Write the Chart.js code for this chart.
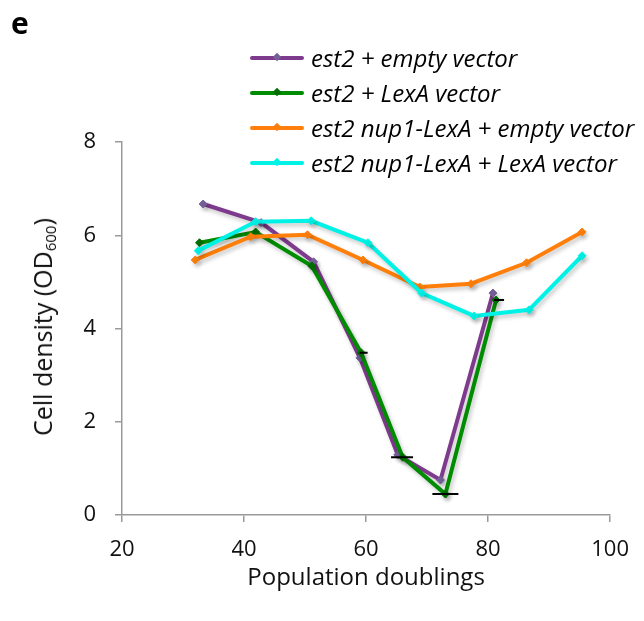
<!DOCTYPE html>
<html>
<head>
<meta charset="utf-8">
<script src="https://cdn.jsdelivr.net/npm/chart.js@4.4.0/dist/chart.umd.min.js"></script>
<style>
  body { margin: 0; background: #fff; font-family: "Open Sans", sans-serif; }
  #wrap { position: relative; width: 644px; height: 621px; }
  #panel { position: absolute; left: 11px; top: 2px; font-size: 30px; font-weight: bold; }
  #legend { position: absolute; left: 250px; top: 40px; }
  .item { position: relative; height: 35px; display: flex; align-items: center; }
  .swatch { position: relative; width: 54px; height: 4px; border-radius: 2px; margin-right: 7px; }
  .swatch i { position: absolute; left: 24px; top: -2px; width: 6px; height: 6px; transform: rotate(45deg); }
  .label { font-style: italic; font-size: 24px; color: #000; white-space: nowrap; }
  #ytitle { position: absolute; left: 44px; top: 327px; transform: translate(-50%, -50%) rotate(-90deg);
            font-size: 25px; color: #111; white-space: nowrap; line-height: 1; }
  #ytitle sub { font-size: 15px; vertical-align: -4px; }
</style>
</head>
<body>
<div id="wrap">
  <canvas id="myChart" width="644" height="621"></canvas>
  <div id="panel">e</div>
  <div id="ytitle">Cell density (OD<sub>600</sub>)</div>
  <div id="legend"></div>
</div>
<script>
// series labels
var seriesNames = ["est2 + empty vector", "est2 + LexA vector", "est2 nup1-LexA + empty vector", "est2 nup1-LexA + LexA vector"];
var lineColors = ["#7e3a8c", "#008c00", "#ff7f0a", "#00f2e6"];
var markColors = ["#76609a", "#006e00", "#ff7f0a", "#00f2e6"];

// est2 + empty vector
var xPurple = [33.3, 42.8, 51.4, 59.0, 65.2, 72.2, 80.8];
var yPurple = [6.67, 6.27, 5.43, 3.37, 1.29, 0.75, 4.76];
// est2 + LexA vector
var xGreen = [32.7, 41.9, 51.1, 59.2, 66.0, 73.0, 81.3];
var yGreen = [5.84, 6.07, 5.34, 3.48, 1.24, 0.45, 4.61];
// est2 nup1-LexA + empty vector
var xOrange = [32.0, 41.1, 50.4, 59.5, 68.8, 77.2, 86.3, 95.4];
var yOrange = [5.47, 5.97, 6.01, 5.47, 4.89, 4.96, 5.41, 6.07];
// est2 nup1-LexA + LexA vector
var xCyan = [32.5, 41.9, 51.0, 60.3, 69.1, 77.7, 86.7, 95.4];
var yCyan = [5.67, 6.29, 6.31, 5.84, 4.76, 4.27, 4.40, 5.56];

// small error bar caps
var xCaps = [59.6, 65.9, 73.0, 81.8];
var yCaps = [3.48, 1.24, 0.45, 4.61];
var capSize = [4, 11, 13, 5];

function pts(xs, ys) {
  return xs.map(function (x, i) { return { x: x, y: ys[i] }; });
}

var allX = [xPurple, xGreen, xOrange, xCyan];
var allY = [yPurple, yGreen, yOrange, yCyan];

var datasets = seriesNames.map(function (name, i) {
  return {
    label: name,
    data: pts(allX[i], allY[i]),
    borderColor: lineColors[i],
    backgroundColor: markColors[i],
    pointBorderColor: markColors[i],
    borderWidth: 4,
    pointStyle: 'rectRot',
    pointRadius: 4,
    pointBorderWidth: 1,
    tension: 0,
    order: 4 - i
  };
});
datasets.push({
  label: 'caps',
  data: pts(xCaps, yCaps),
  showLine: false,
  pointStyle: 'line',
  pointRadius: capSize,
  borderColor: '#000',
  pointBorderWidth: 2,
  order: 0
});

// excel-like soft shadow under the lines
var shadowPlugin = {
  id: 'shadow',
  beforeDatasetDraw: function (chart, args) {
    if (args.meta.dataset && args.index < 4) {
      var ctx = chart.ctx;
      ctx.save();
      ctx.shadowColor = 'rgba(0,0,0,0.22)';
      ctx.shadowBlur = 4;
      ctx.shadowOffsetX = 2;
      ctx.shadowOffsetY = 3;
    }
  },
  afterDatasetDraw: function (chart, args) {
    if (args.meta.dataset && args.index < 4) chart.ctx.restore();
  }
};

new Chart("myChart", {
  type: "scatter",
  data: { datasets: datasets },
  plugins: [shadowPlugin],
  options: {
    responsive: false,
    animation: false,
    showLine: true,
    layout: { padding: { top: 142, right: 30, left: 0, bottom: 0 } },
    plugins: { legend: { display: false }, tooltip: { enabled: false } },
    scales: {
      x: {
        type: 'linear', min: 20, max: 100,
        afterFit: function (s) { s.height = 106; },
        ticks: { stepSize: 20, padding: 15, color: '#111', font: { family: 'Open Sans', size: 22 } },
        grid: { drawOnChartArea: false, drawTicks: true, tickLength: 7, color: '#9a9a9a', lineWidth: 1.5 },
        border: { color: '#9a9a9a', width: 1.5 },
        title: { display: true, text: 'Population doublings', color: '#111', font: { family: 'Open Sans', size: 24 }, padding: { bottom: 28 } }
      },
      y: {
        min: 0, max: 8,
        afterFit: function (s) { s.width = 122; },
        ticks: { stepSize: 2, padding: 19, color: '#111', font: { family: 'Open Sans', size: 22 } },
        grid: { drawOnChartArea: false, drawTicks: true, tickLength: 7, color: '#9a9a9a', lineWidth: 1.5 },
        border: { color: '#9a9a9a', width: 1.5 },
        title: { display: false }
      }
    }
  }
});

// legend drawn as html
var legend = document.getElementById('legend');
seriesNames.forEach(function (name, i) {
  var row = document.createElement('div');
  row.className = 'item';
  row.innerHTML = '<span class="swatch" style="background:' + lineColors[i] + '"><i style="background:' + markColors[i] + '"></i></span>' +
    '<span class="label">' + name + '</span>';
  legend.appendChild(row);
});
</script>
</body>
</html>
